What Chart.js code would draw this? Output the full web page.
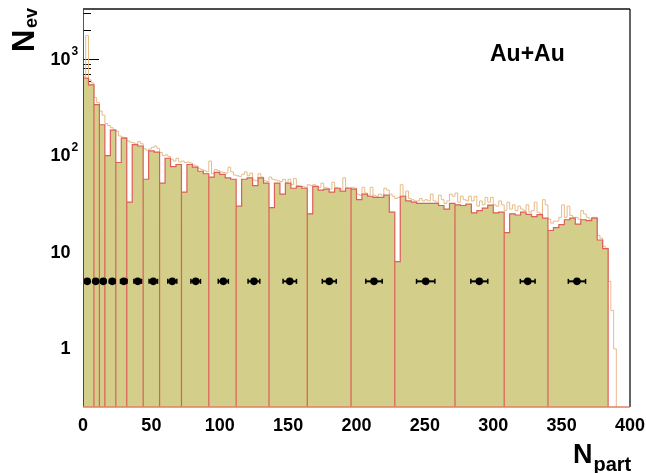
<!DOCTYPE html>
<html>
<head>
<meta charset="utf-8">
<title>Npart distribution, Au+Au</title>
<script src="https://cdn.jsdelivr.net/npm/chart.js@4.4.1/dist/chart.umd.min.js"></script>
<style>
  html, body { margin: 0; padding: 0; background: #ffffff; }
  #box { width: 646px; height: 473px; }
</style>
</head>
<body>
<div id="box"><canvas id="npart" width="646" height="473"></canvas></div>
<script>
// Events per 4-unit Npart bin inside the centrality classes (bins start at 0, 4, 8, ...)
const classBinWidth = 4;
const classBinCounts = [
  636, 542, 337, 209, 100, 184, 85, 152, 33, 130,
  126, 57, 112, 109, 52, 94, 77, 81, 42, 81,
  76, 69, 65, 60, 67, 64, 59, 57, 30, 57,
  59, 49, 59, 52, 29, 52, 40, 52, 46, 48,
  46, 25, 48, 44, 45, 42, 46, 43, 46, 45,
  35, 40, 38, 37, 37, 39, 26, 8, 38, 34,
  33, 32, 32, 32, 32, 30.5, 28, 32, 31, 30.5,
  31.5, 25.6, 27, 28.6, 30.7, 25.6, 26, 16, 25, 24.3,
  26, 24.7, 23.4, 24.5, 22.6, 16.8, 18, 19.3, 21.7, 22.6,
  19.6, 21.7, 21.3, 22.6, 13.4, 10.9
];

// Npart edges of the centrality classes
const classEdges = [0, 8, 12, 16, 24, 32, 44, 56, 72, 92, 112, 136, 164, 196, 228, 272, 308, 340, 384];

// Full Npart distribution in 2-unit bins (bins start at 0, 2, 4, ...)
const fineBinWidth = 2;
const fineBinCounts = [
  660, 1750, 610, 565, 400, 355, 290, 262, 215, 205,
  195, 186, 178, 160, 156, 154, 142, 138, 136, 132,
  140, 133, 118, 114, 117, 122, 126, 119, 108, 100,
  102, 98, 92, 88, 94, 86, 88, 85, 86, 84,
  80, 78, 74, 72, 70, 68, 88, 65, 72, 70,
  68, 67, 66, 76, 68, 63, 62, 61, 64, 68,
  62, 66, 56, 55, 65, 60, 55, 54, 60, 57,
  56, 55, 54, 57, 53, 57, 50, 58, 49, 48,
  48, 47, 50, 49, 50, 48, 47, 52, 47, 46,
  45, 53, 47, 46, 45, 59, 47, 46, 47, 46,
  40, 39, 47, 41, 39, 47, 39, 38, 40, 39,
  46, 44, 40, 38, 36, 37, 50, 38, 43, 36,
  35, 34, 34, 36, 34, 35, 34, 40, 34, 33,
  39, 35, 32, 34, 40, 38, 41, 33, 38, 35,
  34, 38, 34, 38, 30, 34, 31, 37, 33, 37,
  31, 30, 34, 31, 27, 33, 28, 31, 27, 30,
  28, 27, 31, 26, 27, 33, 26, 25, 35, 31,
  22, 20, 21, 21, 23, 31, 23, 30, 24, 23,
  23, 22, 27, 25, 23, 22, 23, 23, 15, 14,
  11.5, 11, 5, 2.5, 1
];

// Mean Npart of each class with its spread, plotted at a fixed height
const classMeanNpart = [3.1, 9.3, 14.8, 21.4, 29.8, 40.0, 51.4, 65.3, 82.4, 102.6, 125.0, 151.2, 180.1, 212.8, 250.6, 289.8, 325.2, 361.2];
const classMeanErr   = [1.5, 1.6, 1.8, 2.1, 2.4, 2.8, 3.1, 3.3, 3.5, 3.7, 4.3, 4.9, 5.1, 6.0, 6.7, 6.2, 5.4, 6.3];
const classMarkerLevel = 5;

// Axis ticks
const xTickValues = [0, 50, 100, 150, 200, 250, 300, 350, 400];
const yTickValues = [1, 10, 100, 1000];
const yTickBase   = ['1', '10', '10', '10'];
const yTickExp    = ['', '', '2', '3'];

const xRange = [0, 400];
const yRange = [0.25, 3300];

const FONT = '"Liberation Sans", Arial, Helvetica, sans-serif';
const OLIVE = 'rgb(211,206,137)';
const RED = 'rgb(222,94,88)';
const TAN = 'rgb(228,188,136)';

// Step outline of the class histograms; each class drops to the axis at its edges
function classOutline() {
  const pts = [];
  for (let c = 0; c < classEdges.length - 1; c++) {
    const lo = classEdges[c], hi = classEdges[c + 1];
    pts.push({ x: lo, y: yRange[0] });
    for (let e = lo; e < hi; e += classBinWidth) {
      pts.push({ x: e, y: classBinCounts[e / classBinWidth] });
    }
  }
  pts.push({ x: classEdges[classEdges.length - 1], y: yRange[0] });
  return pts;
}

// Step outline of the full distribution
function fineOutline() {
  const pts = [{ x: 0, y: yRange[0] }];
  fineBinCounts.forEach((v, i) => pts.push({ x: i * fineBinWidth, y: v }));
  pts.push({ x: fineBinCounts.length * fineBinWidth, y: yRange[0] });
  return pts;
}

const meanPoints = classMeanNpart.map(x => ({ x, y: classMarkerLevel }));

function line(ctx, x1, y1, x2, y2) {
  ctx.beginPath(); ctx.moveTo(x1, y1); ctx.lineTo(x2, y2); ctx.stroke();
}

// Frame, inner ticks, error bars and text with sub/superscripts
const decorations = {
  id: 'decorations',
  beforeDatasetsDraw(chart) {
    const { ctx, chartArea: a, scales: { y } } = chart;
    ctx.save();
    ctx.strokeStyle = '#000';
    ctx.lineWidth = 1;
    const lo = Math.floor(Math.log10(yRange[0])), hi = Math.ceil(Math.log10(yRange[1]));
    for (let k = lo; k <= hi; k++) {
      for (let m = 1; m <= 9; m++) {
        const v = m * Math.pow(10, k);
        if (v < yRange[0] || v > yRange[1]) continue;
        const py = Math.round(y.getPixelForValue(v)) + 0.5;
        line(ctx, a.left, py, a.left + (m === 1 ? 16 : 8), py);
      }
    }
    ctx.restore();
  },
  afterDatasetsDraw(chart) {
    const { ctx, chartArea: a, scales: { x, y } } = chart;
    ctx.save();
    // error bars of the class means
    ctx.strokeStyle = '#000';
    ctx.lineWidth = 2;
    classMeanNpart.forEach((m, i) => {
      const py = y.getPixelForValue(classMarkerLevel);
      const x1 = x.getPixelForValue(m - classMeanErr[i]);
      const x2 = x.getPixelForValue(m + classMeanErr[i]);
      line(ctx, x1, py, x2, py);
      ctx.lineWidth = 1.5;
      line(ctx, x1, py - 2.5, x1, py + 2.5);
      line(ctx, x2, py - 2.5, x2, py + 2.5);
      ctx.lineWidth = 2;
    });
    // frame
    ctx.lineWidth = 1.3;
    ctx.strokeStyle = '#111';
    line(ctx, a.left, a.top, a.right, a.top);
    line(ctx, a.right, a.top, a.right, a.bottom);
    ctx.strokeStyle = 'rgba(70,50,45,0.85)';
    ctx.lineWidth = 1;
    line(ctx, a.left + 0.5, a.top, a.left + 0.5, a.bottom);
    ctx.strokeStyle = 'rgb(226,128,96)';
    ctx.lineWidth = 1.5;
    line(ctx, a.left, a.bottom, a.right, a.bottom);
    ctx.restore();
  },
  afterDraw(chart) {
    const { ctx, chartArea: a, scales: { y } } = chart;
    ctx.save();
    ctx.fillStyle = '#000';
    // y tick labels with exponents
    yTickValues.forEach((v, i) => {
      const py = y.getPixelForValue(v);
      ctx.font = 'bold 18px ' + FONT;
      ctx.textAlign = 'right';
      ctx.textBaseline = 'middle';
      ctx.fillText(yTickBase[i], a.left - 12.5, py + 0.5);
      if (yTickExp[i]) {
        ctx.font = 'bold 12px ' + FONT;
        ctx.textAlign = 'left';
        ctx.textBaseline = 'alphabetic';
        ctx.fillText(yTickExp[i], a.left - 11.5, py - 4.5);
      }
    });
    ctx.textAlign = 'left';
    ctx.textBaseline = 'alphabetic';
    // x title: N_part
    ctx.font = 'bold 27px ' + FONT;
    ctx.fillText('N', 573, 462.5);
    const nw = ctx.measureText('N').width;
    ctx.font = 'bold 20px ' + FONT;
    ctx.fillText('part', 573 + nw + 1, 471);
    // y title: N_ev (rotated)
    ctx.save();
    ctx.translate(33.5, 52);
    ctx.rotate(-Math.PI / 2);
    ctx.font = 'bold 31px ' + FONT;
    ctx.fillText('N', 0, 0);
    const nw2 = ctx.measureText('N').width;
    ctx.font = 'bold 18px ' + FONT;
    ctx.fillText('ev', nw2 + 1.5, 3);
    ctx.restore();
    // collision system
    ctx.font = 'bold 23px ' + FONT;
    ctx.fillText('Au+Au', 490, 61);
    ctx.restore();
  }
};

new Chart(document.getElementById('npart'), {
  type: 'line',
  data: {
    datasets: [
      {
        label: 'mean Npart',
        type: 'scatter',
        data: meanPoints,
        pointRadius: 3.8,
        pointHoverRadius: 3.8,
        pointBackgroundColor: '#000',
        pointBorderColor: '#000',
        pointBorderWidth: 0,
        showLine: false,
        order: 0
      },
      {
        label: 'centrality classes',
        data: classOutline(),
        stepped: 'before',
        fill: 'start',
        backgroundColor: OLIVE,
        borderColor: RED,
        borderWidth: 1.2,
        pointRadius: 0,
        order: 2
      },
      {
        label: 'all events',
        data: fineOutline(),
        stepped: 'before',
        fill: false,
        borderColor: TAN,
        borderWidth: 1,
        pointRadius: 0,
        order: 3
      }
    ]
  },
  options: {
    responsive: false,
    animation: false,
    devicePixelRatio: 1,
    layout: { padding: { top: 9, right: 16, left: 0, bottom: 0 } },
    plugins: { legend: { display: false }, tooltip: { enabled: false } },
    scales: {
      x: {
        type: 'linear',
        min: xRange[0],
        max: xRange[1],
        grid: { display: false, drawTicks: false },
        border: { display: false },
        afterBuildTicks: s => { s.ticks = xTickValues.map(v => ({ value: v })); },
        afterFit: s => { s.height = 66; s.paddingLeft = 0; s.paddingRight = 0; },
        ticks: {
          autoSkip: false,
          maxRotation: 0,
          padding: 8,
          color: '#000',
          font: { family: FONT, weight: 'bold', size: 18 },
          callback: v => String(v)
        }
      },
      y: {
        type: 'logarithmic',
        min: yRange[0],
        max: yRange[1],
        grid: { display: false, drawTicks: false },
        border: { display: false },
        afterBuildTicks: s => { s.ticks = yTickValues.map(v => ({ value: v })); },
        afterFit: s => { s.width = 83; s.paddingTop = 0; s.paddingBottom = 0; },
        ticks: { display: false }
      }
    }
  },
  plugins: [decorations]
});
</script>
</body>
</html>
